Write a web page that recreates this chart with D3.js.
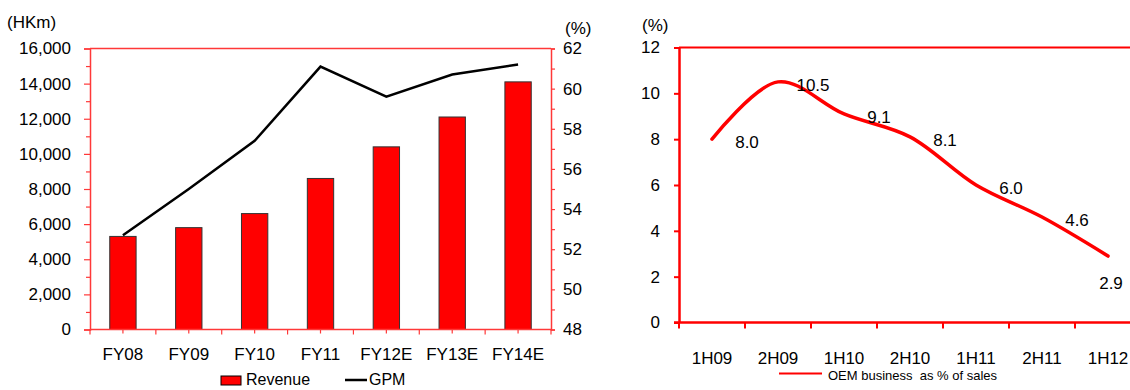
<!DOCTYPE html>
<html>
<head>
<meta charset="utf-8">
<script src="https://cdn.jsdelivr.net/npm/d3@7"></script>
<style>
  body { margin: 0; background: #fff; }
  svg { display: block; font-family: Arial, "Liberation Sans", sans-serif; }
</style>
</head>
<body>
<div id="chart"></div>
<script>
// left chart: revenue bars + GPM line
const years = ["FY08", "FY09", "FY10", "FY11", "FY12E", "FY13E", "FY14E"];
const revenue = [5300, 5800, 6600, 8600, 10400, 12100, 14100];
const gpm = [52.7, 55.0, 57.4, 61.1, 59.6, 60.7, 61.2];
const revTicks = d3.range(0, 16001, 1000);
const gpmTicks = d3.range(48, 63, 1);

// right chart: OEM share
const halves = ["1H09", "2H09", "1H10", "2H10", "1H11", "2H11", "1H12"];
const oemShare = [8.0, 10.5, 9.1, 8.1, 6.0, 4.6, 2.9];
const oemTicks = [0, 2, 4, 6, 8, 10, 12];

const svg = d3.select("#chart")
  .append("svg")
  .attr("width", 1130)
  .attr("height", 390);

const red = "#ff0000";
const lightRed = "#ff3838";
const fs = "17px";

// ---------- left chart ----------
const L = { left: 90, right: 551, top: 48.5, bottom: 329.5 };

const x = d3.scaleBand()
  .domain(years)
  .range([L.left, L.right]);

const yRev = d3.scaleLinear()
  .domain([0, 16000])
  .range([L.bottom, L.top]);

const yGpm = d3.scaleLinear()
  .domain([48, 62])
  .range([L.bottom, L.top]);

const left = svg.append("g");

// top border
left.append("line")
  .attr("x1", L.left).attr("x2", L.right)
  .attr("y1", L.top).attr("y2", L.top)
  .attr("stroke", lightRed)
  .attr("stroke-width", 1.5);

const barW = x.bandwidth() * 0.4;
left.selectAll(".bar")
  .data(years)
  .enter()
  .append("rect")
  .attr("class", "bar")
  .attr("x", d => x(d) + (x.bandwidth() - barW) / 2)
  .attr("y", (d, i) => yRev(revenue[i]))
  .attr("width", barW)
  .attr("height", (d, i) => L.bottom - yRev(revenue[i]))
  .attr("fill", red)
  .attr("stroke", "#333")
  .attr("stroke-width", 1);

left.append("path")
  .datum(gpm)
  .attr("fill", "none")
  .attr("stroke", "#000")
  .attr("stroke-width", 2.5)
  .attr("d", d3.line()
    .x((d, i) => x(years[i]) + x.bandwidth() / 2)
    .y(d => yGpm(d)));

// left axis
left.append("g")
  .attr("transform", `translate(${L.left},0)`)
  .call(d3.axisLeft(yRev)
    .tickValues(revTicks)
    .tickSize(6)
    .tickPadding(13)
    .tickFormat(d => d % 2000 === 0 ? d3.format(",")(d) : ""))
  .call(g => {
    g.select(".domain").attr("stroke", lightRed).attr("stroke-width", 1.5);
    g.selectAll(".tick line").attr("stroke", lightRed).attr("stroke-width", 1.2);
    g.selectAll(".tick").filter(d => d % 2000 !== 0).select("line").attr("x2", -4);
    g.selectAll(".tick text").style("font-size", fs).attr("fill", "#000");
  });

// right axis
left.append("g")
  .attr("transform", `translate(${L.right},0)`)
  .call(d3.axisRight(yGpm)
    .tickValues(gpmTicks)
    .tickSize(4)
    .tickPadding(8)
    .tickFormat(d => d % 2 === 0 ? d : ""))
  .call(g => {
    g.select(".domain").attr("stroke", lightRed).attr("stroke-width", 1.5);
    g.selectAll(".tick line").attr("stroke", lightRed).attr("stroke-width", 1.2);
    g.selectAll(".tick text").style("font-size", fs).attr("fill", "#000");
  });

// bottom axis
const xAxisL = left.append("g")
  .attr("transform", `translate(0,${L.bottom})`)
  .call(d3.axisBottom(x).tickSize(4).tickPadding(14))
  .call(g => {
    g.select(".domain").remove();
    g.selectAll(".tick line").attr("stroke", lightRed).attr("stroke-width", 1.2);
    g.selectAll(".tick text").style("font-size", fs).attr("fill", "#000");
  });

xAxisL.append("line")
  .attr("x1", L.left).attr("x2", L.right)
  .attr("stroke", lightRed)
  .attr("stroke-width", 1.5);

xAxisL.selectAll(".edge")
  .data(d3.range(years.length + 1))
  .enter()
  .append("line")
  .attr("class", "edge")
  .attr("x1", i => L.left + i * x.step())
  .attr("x2", i => L.left + i * x.step())
  .attr("y1", 0).attr("y2", 5)
  .attr("stroke", lightRed)
  .attr("stroke-width", 1.2);

// units
left.append("text")
  .attr("x", 7).attr("y", 28)
  .style("font-size", fs)
  .text("(HKm)");

left.append("text")
  .attr("x", 565).attr("y", 34)
  .style("font-size", fs)
  .text("(%)");

// legend
const legL = left.append("g");
legL.append("rect")
  .attr("x", 221).attr("y", 376)
  .attr("width", 20).attr("height", 9)
  .attr("fill", red)
  .attr("stroke", "#000");
legL.append("text")
  .attr("x", 246).attr("y", 385)
  .style("font-size", "16px")
  .text("Revenue");
legL.append("line")
  .attr("x1", 345).attr("x2", 367)
  .attr("y1", 380).attr("y2", 380)
  .attr("stroke", "#000")
  .attr("stroke-width", 2.5);
legL.append("text")
  .attr("x", 369).attr("y", 385)
  .style("font-size", "16px")
  .text("GPM");

// ---------- right chart ----------
const R = { left: 679, top: 47.5, bottom: 322.5 };

const xh = d3.scaleBand()
  .domain(halves)
  .range([R.left, R.left + 7 * 66]);

const yOem = d3.scaleLinear()
  .domain([0, 12])
  .range([R.bottom, R.top]);

const right = svg.append("g");

right.append("line")
  .attr("x1", R.left).attr("x2", 1130)
  .attr("y1", R.top).attr("y2", R.top)
  .attr("stroke", red)
  .attr("stroke-width", 2);

right.append("g")
  .attr("transform", `translate(${R.left},0)`)
  .call(d3.axisLeft(yOem)
    .tickValues(oemTicks)
    .tickSize(5)
    .tickPadding(14)
    .tickSizeOuter(0))
  .call(g => {
    g.select(".domain").attr("stroke", red).attr("stroke-width", 2.5);
    g.selectAll(".tick line").attr("stroke", red).attr("stroke-width", 2);
    g.selectAll(".tick text").style("font-size", fs).attr("fill", "#000");
  });

const xAxisR = right.append("g")
  .attr("transform", `translate(0,${R.bottom})`)
  .call(d3.axisBottom(xh).tickSize(0).tickPadding(29))
  .call(g => {
    g.select(".domain").remove();
    g.selectAll(".tick text").style("font-size", fs).attr("fill", "#000");
  });

xAxisR.append("line")
  .attr("x1", R.left - 5).attr("x2", 1130)
  .attr("stroke", red)
  .attr("stroke-width", 2.5);

xAxisR.selectAll(".edge")
  .data(d3.range(halves.length))
  .enter()
  .append("line")
  .attr("x1", i => R.left + i * xh.step())
  .attr("x2", i => R.left + i * xh.step())
  .attr("y1", 0).attr("y2", 6)
  .attr("stroke", red)
  .attr("stroke-width", 2);

right.append("path")
  .datum(oemShare)
  .attr("fill", "none")
  .attr("stroke", red)
  .attr("stroke-width", 3.5)
  .attr("stroke-linecap", "round")
  .attr("d", d3.line()
    .x((d, i) => xh(halves[i]) + xh.bandwidth() / 2)
    .y(d => yOem(d))
    .curve(d3.curveCatmullRom.alpha(0.5)));

right.selectAll(".lbl")
  .data(oemShare)
  .enter()
  .append("text")
  .attr("class", "lbl")
  .attr("x", (d, i) => xh(halves[i]) + xh.bandwidth() / 2 + (i === oemShare.length - 1 ? 3 : xh.bandwidth() / 2 + 2))
  .attr("y", (d, i) => yOem(d) + (i === oemShare.length - 1 ? 27 : 3))
  .attr("dy", "0.35em")
  .attr("text-anchor", "middle")
  .style("font-size", fs)
  .text(d => d.toFixed(1));

right.append("text")
  .attr("x", 642).attr("y", 31)
  .style("font-size", fs)
  .text("(%)");

right.append("line")
  .attr("x1", 779).attr("x2", 822)
  .attr("y1", 373.5).attr("y2", 373.5)
  .attr("stroke", red)
  .attr("stroke-width", 2);
right.append("text")
  .attr("x", 828).attr("y", 379.5)
  .style("font-size", "13px")
  .style("white-space", "pre")
  .text("OEM business  as % of sales");
</script>
</body>
</html>
